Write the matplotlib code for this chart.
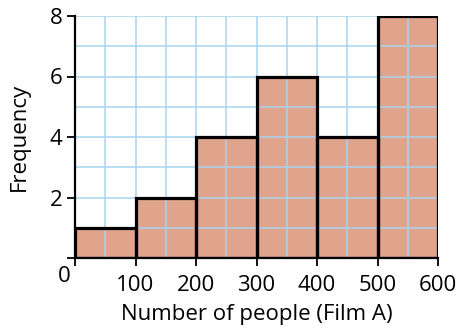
import matplotlib
matplotlib.use("Agg")
import matplotlib.pyplot as plt
import numpy as np

bin_edges = [0, 100, 200, 300, 400, 500, 600]
frequencies = [1, 2, 4, 6, 4, 8]
x_tick_labels = ["", "100", "200", "300", "400", "500", "600"]
y_tick_labels = ["", "2", "4", "6", "8"]

plt.rcParams['font.family'] = ['Open Sans', 'DejaVu Sans']

fig = plt.figure(figsize=(4.61, 3.31), dpi=100)
ax = fig.add_axes([75/461, 1-258/331, (438-75)/461, (258-16)/331])

lefts = np.array(bin_edges[:-1])
widths = np.diff(bin_edges)
ax.bar(lefts, frequencies, width=widths, align='edge', color='#E0A48C',
       edgecolor='none', zorder=1)
ax.bar(lefts, frequencies, width=widths, align='edge', color='none',
       edgecolor='black', linewidth=2.3, zorder=3)

ax.set_xlim(0, 600)
ax.set_ylim(0, 8)
ax.set_xticks([0, 100, 200, 300, 400, 500, 600])
ax.set_xticklabels(x_tick_labels)
ax.set_yticks([0, 2, 4, 6, 8])
ax.set_yticklabels(y_tick_labels)
ax.set_xticks(np.arange(0, 601, 50), minor=True)
ax.set_yticks(np.arange(0, 9, 1), minor=True)
ax.tick_params(axis='both', which='minor', length=0)
ax.tick_params(axis='both', which='major', length=6, width=1.3, labelsize=16,
               direction='out', color='black')
ax.tick_params(axis='x', pad=6)
ax.tick_params(axis='y', pad=3)
ax.set_axisbelow(False)
ax.grid(which='both', color='#A8D4F0', linewidth=1.1, zorder=2)

for s in ['top', 'right']:
    ax.spines[s].set_visible(False)
for s in ['left', 'bottom']:
    ax.spines[s].set_linewidth(1.6)
    ax.spines[s].set_zorder(4)

ax.text(-0.012, -0.035, "0", transform=ax.transAxes, ha='right', va='top', fontsize=16)
ax.set_xlabel("Number of people (Film A)", fontsize=16, labelpad=6)
ax.set_ylabel("Frequency", fontsize=16, labelpad=14)

fig.savefig("out.png", dpi=100)
